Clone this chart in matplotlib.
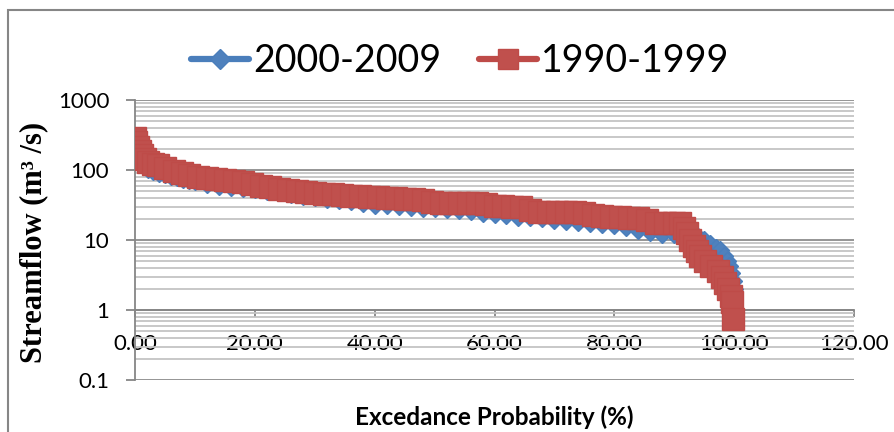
import numpy as np
import matplotlib
matplotlib.use('Agg')
import matplotlib.pyplot as plt
from matplotlib.patches import Rectangle
from matplotlib.ticker import FixedLocator, FixedFormatter, FuncFormatter, NullFormatter, LogLocator

# flow duration curves (exceedance % , flow m3/s)
p_2000 = [0, 0.5, 1, 1.5, 2.2, 3, 4, 5, 6, 7, 8, 9, 10, 12, 14, 16, 18, 20, 22, 24,
          26, 28, 30, 32, 34, 36, 38, 40, 42, 44, 46, 48, 50, 52, 54, 56, 58, 60, 62, 64,
          66, 68, 70, 72, 74, 76, 78, 80, 82, 84, 86, 88, 90, 91, 92, 93, 94, 95, 96, 97,
          97.7, 98.3, 98.8, 99.2, 99.5, 99.8, 100]
q_2000 = [260, 190, 150, 128, 103, 97, 90.6, 86.6, 82, 78.4, 74.7, 72, 69.2, 63.1, 60, 57.2, 55.3, 52.7, 50.1, 48.5,
          45.4, 42.5, 40.5, 38.5, 37.3, 35.5, 33.8, 32.1, 31.6, 31.1, 30.1, 29.1, 28.2, 27.3, 26.4, 26, 24.7, 23.5, 22.4, 21.3,
          21, 20.3, 19.3, 18.7, 18.1, 17.5, 16.9, 16.4, 15.3, 13.7, 12.8, 12.2, 12, 11.8, 11.6, 11.4, 11, 10, 8.8, 7.8,
          7.2, 6, 5, 4.2, 3.4, 2.6, 2.0]

p_1990 = [0, 0.2, 0.5, 0.8, 1.2, 1.7, 2.2, 3, 3.8, 5, 6.5, 7.8, 9, 10.5, 12, 13.5, 15, 16.5, 18, 19.5,
          21, 22.5, 24, 25.5, 27, 28.5, 30, 31.5, 33, 34.5, 36, 37.5, 39, 40.5, 42, 43.5, 45, 46.5, 48, 49.5,
          51, 52.5, 54, 55.5, 57, 58.5, 60, 61.5, 63, 64.5, 66, 67.5, 69, 70.5, 72, 73.5, 75, 76.5, 78, 79.5,
          81, 82.5, 84, 85.5, 87, 88.5, 90, 91, 91.7, 92.2, 92.7, 93.3, 93.8, 94.3, 95.2, 96.2, 97.3, 98,
          98.5, 99, 99.4, 99.7, 99.8]
q_1990 = [290, 250, 210, 185, 163, 145, 130, 123, 118, 108, 97, 91, 85, 79, 76, 74, 72, 69, 66.5, 63,
          60, 57, 54, 52, 50, 48.5, 47, 46, 45, 44, 43, 42.5, 41.5, 41, 40, 39.5, 38.5, 38, 37.3, 35,
          34, 34, 33.8, 33.8, 33.8, 32.5, 31, 30.3, 30, 29.6, 27, 25.2, 25.1, 25.1, 25.1, 25, 24, 23, 22.2, 21.3,
          21, 20.8, 20.7, 19, 17.5, 17.5, 17.5, 17.3, 15, 12.6, 10, 8.2, 7, 6, 5, 4.2, 3.6, 3.0,
          2.4, 2.0, 1.6, 1.3, 0.74]

y_ticks = [0.1, 1, 10, 100, 1000]
y_tick_labels = ['0.1', '1', '10', '100', '1000']
x_ticks = [0, 20, 40, 60, 80, 100, 120]

plt.rcParams['font.family'] = 'Lato'

fig = plt.figure(figsize=(8.94, 4.32), dpi=100)
# chart frame (cut off at right/bottom like the screenshot)
fig.patches.append(Rectangle((8/894, -0.2), 1.2, 1 - 10/432 + 0.2, transform=fig.transFigure,
                             fill=False, ec='#868686', lw=1.5))

ax = fig.add_axes([135/894, 1 - 380/432, 719/894, 280/432])
ax.set_yscale('log')
ax.set_ylim(0.1, 1000)
ax.set_xlim(0, 120)

ax.plot(p_2000, q_2000, color='#4A7EBB', lw=4.5, marker='D', ms=9, mfc='#4F81BD', mec='#4A7EBB',
        mew=1, solid_capstyle='round', label='2000-2009', zorder=3)
ax.plot(p_1990, q_1990, color='#BE4B48', lw=4.5, marker='s', ms=15.5, mfc='#C0504D', mec='#BE4B48',
        mew=1, solid_capstyle='round', label='1990-1999', zorder=4)

ax.yaxis.set_major_locator(FixedLocator(y_ticks))
ax.yaxis.set_major_formatter(FixedFormatter(y_tick_labels))
ax.yaxis.set_minor_locator(LogLocator(base=10, subs=range(2, 10)))
ax.yaxis.set_minor_formatter(NullFormatter())
ax.xaxis.set_major_locator(FixedLocator(x_ticks))
ax.xaxis.set_major_formatter(FuncFormatter(lambda v, pos: '%.2f' % v))

ax.grid(False)
ax.yaxis.grid(True, which='major', color='#8c8c8c', lw=1.3)
ax.yaxis.grid(True, which='minor', color='#c4c4c4', lw=1.3)
ax.set_axisbelow(True)

for s in ['top', 'right']:
    ax.spines[s].set_visible(False)
ax.spines['bottom'].set_position(('data', 1))
ax.spines['bottom'].set_color('#868686')
ax.spines['left'].set_color('#868686')
ax.spines['bottom'].set_linewidth(1.3)
ax.spines['left'].set_linewidth(1.3)

ax.tick_params(axis='y', which='major', direction='out', length=6.5, width=1.3, color='#868686',
               pad=12, labelsize=16)
ax.tick_params(axis='y', which='minor', length=0)
ax.tick_params(axis='x', direction='out', length=5, width=1.3, color='#868686', pad=12, labelsize=16)

ax.set_xlabel('Excedance Probability (%)', fontsize=17.5, fontweight='bold')
ax.xaxis.set_label_coords(0.5, -0.09)
ax.set_ylabel('Streamflow (m³ /s)', fontfamily='Liberation Serif', fontweight='bold', fontsize=22)
ax.yaxis.set_label_coords(-0.121, 0.49)

leg = ax.legend(loc='center', bbox_to_anchor=(460/894, 1 - 61/432), bbox_transform=fig.transFigure,
                ncol=2, frameon=False, fontsize=27, handlelength=1.55, handletextpad=0.1,
                columnspacing=1.0, borderpad=0)
leg.legend_handles[0].set_markersize(10)
leg.legend_handles[1].set_markersize(14)

plt.savefig('out.png', dpi=100)
